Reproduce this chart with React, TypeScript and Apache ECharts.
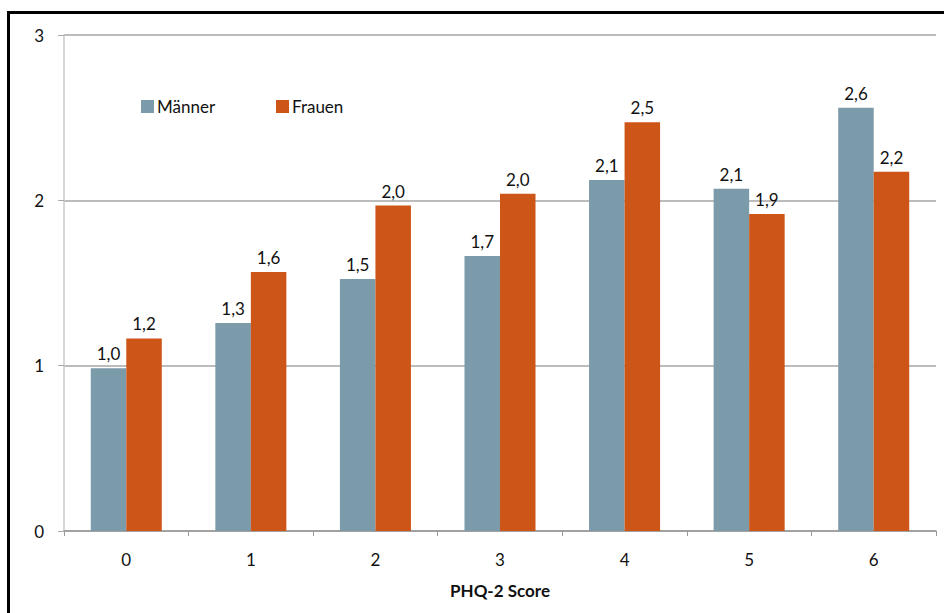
import React, { useEffect, useRef } from "react";
import * as echarts from "echarts";

const categories = ["0", "1", "2", "3", "4", "5", "6"];
const maennerValues = [0.985, 1.258, 1.524, 1.663, 2.123, 2.07, 2.56];
const frauenValues = [1.165, 1.566, 1.968, 2.04, 2.472, 1.917, 2.173];
const yTicks = [0, 1, 2, 3];
const seriesNames = ["Männer", "Frauen"];

const FONT = "Lato, 'Open Sans', sans-serif";
const FS = 17;
const fmt = (v: number) => v.toFixed(1).replace(".", ",");

export default function App() {
  const ref = useRef<HTMLDivElement>(null);
  useEffect(() => {
    if (!ref.current) return;
    const chart = echarts.init(ref.current, undefined, { renderer: "svg" });
    const label = {
      show: true,
      position: "top" as const,
      distance: 6,
      color: "#111",
      fontSize: FS,
      fontFamily: FONT,
      formatter: (p: any) => fmt(p.value),
    };
    const legendBase = {
      top: 98,
      padding: 0,
      itemWidth: 13,
      itemHeight: 13,
      itemGap: 0,
      icon: "rect",
      textStyle: { fontSize: FS, color: "#111", fontFamily: FONT, padding: [0, 0, 0, -2] },
    };
    chart.setOption({
      animation: false,
      backgroundColor: "#fff",
      textStyle: { fontFamily: FONT },
      graphic: [
        {
          type: "rect",
          shape: { x: 8.5, y: 12.5, width: 960, height: 620 },
          style: { fill: "none", stroke: "#000", lineWidth: 3 },
          silent: true,
          z: 100,
        },
      ],
      legend: [
        { ...legendBase, data: [seriesNames[0]], left: 141 },
        { ...legendBase, data: [seriesNames[1]], left: 276 },
      ],
      grid: { left: 64, right: 8, top: 35, bottom: 82, containLabel: false },
      xAxis: {
        type: "category",
        data: categories,
        name: "PHQ-2 Score",
        nameLocation: "middle",
        nameGap: 51,
        nameTextStyle: { fontSize: FS, fontWeight: "bold", color: "#111", fontFamily: FONT },
        axisLine: { show: true, lineStyle: { color: "#999", width: 1.5 } },
        axisTick: { show: true, length: 5, lineStyle: { color: "#999" } },
        axisLabel: { fontSize: FS, color: "#111", margin: 20, fontFamily: FONT },
      },
      yAxis: {
        type: "value",
        min: yTicks[0],
        max: yTicks[yTicks.length - 1],
        interval: 1,
        axisLine: { show: true, lineStyle: { color: "#c8c8c8", width: 1.5 } },
        axisTick: { show: true, length: 6, lineStyle: { color: "#aaa" } },
        axisLabel: { fontSize: FS, color: "#111", margin: 20, fontFamily: FONT },
        splitLine: { show: true, lineStyle: { color: "#a6a6a6", width: 1.5 } },
      },
      series: [
        {
          name: seriesNames[0],
          type: "bar",
          data: maennerValues,
          itemStyle: { color: "#7B9AAA" },
          barGap: "0%",
          barCategoryGap: "43%",
          label,
        },
        {
          name: seriesNames[1],
          type: "bar",
          data: frauenValues,
          itemStyle: { color: "#CC5517" },
          barGap: "0%",
          barCategoryGap: "43%",
          label,
        },
      ],
    });
    return () => chart.dispose();
  }, []);
  return (
    <div
      ref={ref}
      style={{ position: "absolute", left: 0, top: 0, width: 944, height: 613 }}
    />
  );
}
